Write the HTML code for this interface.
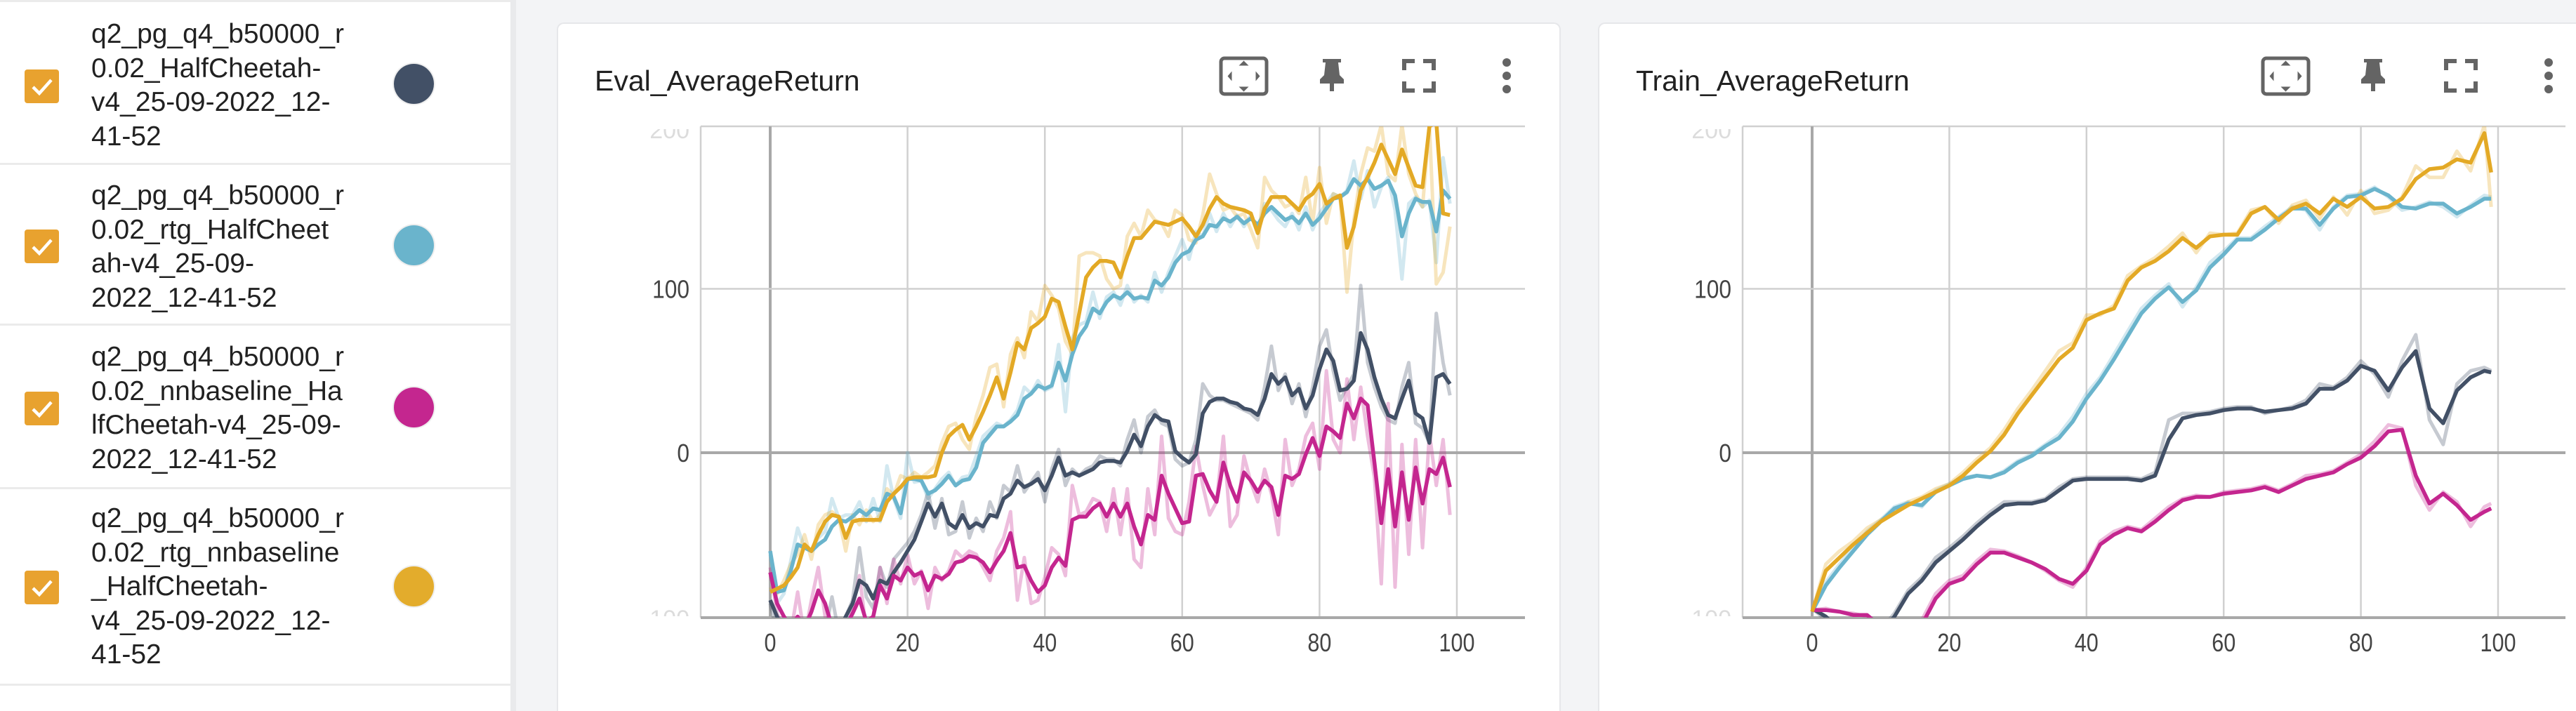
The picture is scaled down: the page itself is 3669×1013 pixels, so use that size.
<!DOCTYPE html>
<html><head><meta charset="utf-8">
<style>
html,body{margin:0;padding:0;width:3669px;height:1013px;overflow:hidden;background:#f3f4f6;font-family:"Liberation Sans",sans-serif;}
#sidebar{position:absolute;left:0;top:0;width:727px;height:1013px;background:#fff;}
#sep{position:absolute;left:727px;top:0;width:8px;height:1013px;background:#e9eaec;}
.row{position:absolute;left:0;width:727px;border-top:3px solid #ebebeb;}
.cb{position:absolute;left:35px;width:49px;height:48px;background:#e8a22f;border-radius:4px;}
.cb svg{position:absolute;left:0;top:0;}
.lbl{position:absolute;left:130px;width:420px;font-size:39px;line-height:48.5px;color:#212121;white-space:nowrap;}
.dot{position:absolute;left:561px;width:57px;height:57px;border-radius:50%;box-shadow:0 0 0 2px #eee;}
.card{position:absolute;top:32px;height:981px;background:#fff;border:2px solid #e6e7ea;border-bottom:none;border-radius:10px 10px 0 0;box-sizing:border-box;}
.title{position:absolute;font-size:41px;color:#212121;white-space:nowrap;}
#charts{position:absolute;left:0;top:0;}
</style></head>
<body>
<div id="sidebar">
  <div class="row" style="top:0;height:232px">
    <div class="cb" style="top:96px"><svg width="49" height="48"><path d="M12 25 L21 34 L38 15" stroke="#fff" stroke-width="4.5" fill="none"/></svg></div>
    <div class="lbl" style="top:22px">q2_pg_q4_b50000_r<br>0.02_HalfCheetah-<br>v4_25-09-2022_12-<br>41-52</div>
    <div class="dot" style="top:88px;background:#425066"></div>
  </div>
  <div class="row" style="top:232px;height:229px">
    <div class="cb" style="top:92px"><svg width="49" height="48"><path d="M12 25 L21 34 L38 15" stroke="#fff" stroke-width="4.5" fill="none"/></svg></div>
    <div class="lbl" style="top:20px">q2_pg_q4_b50000_r<br>0.02_rtg_HalfCheet<br>ah-v4_25-09-<br>2022_12-41-52</div>
    <div class="dot" style="top:86px;background:#6ab4cc"></div>
  </div>
  <div class="row" style="top:461px;height:233px">
    <div class="cb" style="top:94px"><svg width="49" height="48"><path d="M12 25 L21 34 L38 15" stroke="#fff" stroke-width="4.5" fill="none"/></svg></div>
    <div class="lbl" style="top:21px">q2_pg_q4_b50000_r<br>0.02_nnbaseline_Ha<br>lfCheetah-v4_25-09-<br>2022_12-41-52</div>
    <div class="dot" style="top:88px;background:#c4268f"></div>
  </div>
  <div class="row" style="top:694px;height:277px;border-bottom:3px solid #ebebeb">
    <div class="cb" style="top:116px"><svg width="49" height="48"><path d="M12 25 L21 34 L38 15" stroke="#fff" stroke-width="4.5" fill="none"/></svg></div>
    <div class="lbl" style="top:18px">q2_pg_q4_b50000_r<br>0.02_rtg_nnbaseline<br>_HalfCheetah-<br>v4_25-09-2022_12-<br>41-52</div>
    <div class="dot" style="top:110px;background:#e3ac2c"></div>
  </div>
</div>
<div id="sep"></div>

<div class="card" style="left:793px;width:1430px">
  <div class="title" style="left:52px;top:58px">Eval_AverageReturn</div>
</div>
<div class="card" style="left:2276px;width:1393px;border-right:none;border-radius:10px 0 0 0">
  <div class="title" style="left:52px;top:58px">Train_AverageReturn</div>
</div>

<svg id="charts" width="3669" height="1013" xmlns="http://www.w3.org/2000/svg"></svg>

<script>
// ---- Eval chart data (steps 0..99) ----
const evalSteps = Array.from({length:100},(_, i)=>i);
const evalGold = [-85,-83,-81,-76,-70,-56,-60,-50,-42,-38,-39,-52,-42,-41,-41,-41,-41,-30,-25,-21,-16,-15,-15,-15,-14,0,10,14,17,8,16,25,35,46,33,49,67,63,76,79,83,94,92,77,63,85,107,113,117,117,116,107,120,131,131,136,141,140,139,141,143,138,132,139,149,156,152,150,149,148,146,134,149,156,156,156,152,148,155,158,164,152,155,157,125,138,160,168,177,188,179,170,185,174,163,162,199,202,146,145];
const evalGoldRaw = [-82,-86,-78,-68,-62,-50,-65,-44,-38,-36,-40,-60,-38,-44,-35,-42,-38,-22,-26,-14,-16,-12,-15,-12,-8,6,16,18,8,2,22,35,52,54,28,60,70,58,86,80,102,96,88,68,60,120,122,122,120,106,100,102,132,140,132,148,142,140,132,148,145,130,128,145,170,158,148,150,144,146,136,125,168,160,156,150,152,146,168,140,174,140,158,156,98,142,170,186,184,200,170,166,200,170,158,150,200,103,110,138];
const evalBlue = [-60,-85,-84,-72,-56,-58,-60,-56,-53,-45,-41,-42,-39,-35,-38,-34,-35,-25,-27,-37,-16,-16,-17,-25,-23,-19,-14,-20,-17,-16,-9,6,11,16,16,19,23,33,36,41,39,41,55,44,60,71,77,88,85,92,96,94,98,94,95,94,105,102,107,116,121,123,130,132,139,138,143,141,144,140,143,139,146,150,146,142,144,140,146,139,143,149,155,156,159,167,163,167,161,163,166,157,132,146,155,153,153,135,160,155];
const evalBlueRaw = [-62,-92,-86,-66,-46,-58,-60,-52,-48,-28,-40,-38,-38,-30,-42,-28,-42,-8,-28,-40,0,-18,-17,-28,-22,-16,-12,-20,-15,-14,-2,10,14,18,16,20,26,40,36,44,38,40,66,25,70,78,80,98,82,95,98,90,102,92,96,92,110,98,110,120,130,118,135,132,146,135,146,138,145,138,145,134,152,148,142,138,146,136,150,136,146,152,158,156,160,178,155,172,150,162,168,148,106,152,156,150,154,116,180,152];
const evalDark = [-90,-100,-108,-112,-115,-115,-112,-110,-112,-110,-108,-100,-92,-78,-81,-89,-78,-80,-73,-67,-60,-53,-42,-31,-39,-31,-43,-46,-38,-46,-43,-45,-38,-39,-28,-25,-17,-21,-19,-16,-23,-14,-3,-14,-12,-14,-12,-10,-6,-5,-5,-6,1,11,4,16,23,20,19,1,-3,-6,-1,24,31,33,33,31,30,27,26,23,33,48,42,46,35,39,27,35,51,63,56,38,39,44,73,63,46,33,23,21,33,44,24,21,6,46,48,42];
const evalDarkRaw = [-92,-110,-110,-115,-110,-108,-115,-105,-110,-88,-110,-100,-90,-58,-88,-95,-70,-82,-65,-60,-55,-48,-38,-24,-46,-28,-50,-48,-30,-52,-40,-48,-30,-40,-20,-24,-8,-24,-18,-12,-30,-10,2,-20,-10,-14,-10,-8,-2,-4,-4,-8,8,20,0,22,26,18,16,-4,-8,-6,8,42,35,32,32,30,28,26,24,20,40,65,38,48,30,42,22,40,65,75,50,32,40,48,102,55,40,28,20,18,40,55,18,15,6,85,55,35];
const evalMag = [-73,-92,-100,-106,-100,-107,-97,-84,-92,-106,-108,-106,-98,-89,-103,-100,-81,-89,-75,-78,-70,-75,-73,-84,-75,-77,-74,-67,-66,-63,-64,-67,-73,-66,-60,-49,-70,-69,-78,-85,-81,-70,-64,-69,-41,-39,-39,-34,-31,-39,-31,-39,-31,-45,-56,-38,-41,-14,-25,-34,-43,-42,-14,-13,-23,-30,-6,-20,-30,-12,-17,-24,-17,-21,-38,-14,-16,-13,-1,9,-2,16,13,9,30,21,33,29,-6,-43,-10,-45,-12,-41,-9,-31,-10,-13,-3,-21];
const evalMagRaw = [-70,-98,-108,-110,-85,-112,-90,-70,-100,-110,-112,-110,-95,-75,-108,-100,-70,-92,-65,-80,-62,-80,-72,-95,-70,-78,-72,-60,-64,-60,-62,-70,-78,-60,-52,-36,-90,-64,-92,-90,-76,-58,-62,-75,-20,-38,-36,-28,-30,-48,-22,-50,-22,-65,-70,-22,-50,10,-40,-48,-50,-30,4,-20,-38,-30,10,-45,-38,-2,-18,-30,-10,-25,-50,8,-20,-10,10,18,-10,50,8,0,45,8,40,10,-15,-80,30,-82,5,-62,8,-58,12,-20,8,-38];

// ---- Train chart data ----
const trainSteps = [0,2,4,6,8,10,12,14,16,18,20,22,24,26,28,30,32,34,36,38,40,42,44,46,48,50,52,54,56,58,60,62,64,66,68,70,72,74,76,78,80,82,84,86,88,90,92,94,96,98,99];
const trainGold = [-97,-72,-64,-56,-49,-42,-37,-32,-28,-24,-20,-14,-6,1,11,24,35,46,57,64,81,85,88,105,113,117,123,131,125,132,133,133,146,150,142,149,152,146,155,150,156,149,150,155,167,173,174,179,177,195,171];
const trainGoldRaw = [-97,-68,-60,-54,-46,-41,-36,-30,-27,-22,-19,-12,-4,3,14,27,38,50,62,67,84,84,90,108,114,119,126,134,122,134,133,134,148,150,140,151,154,143,156,145,160,146,148,156,175,168,168,184,172,200,150];
const trainBlue = [-97,-81,-70,-60,-50,-42,-34,-31,-32,-24,-20,-16,-14,-15,-12,-6,-2,4,9,19,33,44,57,71,85,94,101,92,99,113,121,130,130,136,143,149,149,139,149,156,157,161,157,150,149,152,152,146,150,155,155];
const trainBlueRaw = [-97,-79,-68,-58,-48,-41,-33,-30,-33,-23,-19,-15,-14,-15,-11,-5,-1,5,11,22,36,46,60,74,88,96,103,89,101,116,123,131,131,138,144,150,148,136,150,157,158,162,156,148,150,153,150,144,151,157,156];
const trainDark = [-95,-100,-108,-112,-113,-110,-100,-86,-78,-67,-60,-53,-45,-38,-32,-31,-31,-29,-23,-17,-16,-16,-16,-16,-17,-14,8,21,23,24,26,27,27,25,26,27,30,39,39,44,53,50,38,52,62,27,18,38,46,50,49];
const trainDarkRaw = [-95,-102,-110,-112,-112,-108,-98,-84,-76,-64,-58,-51,-43,-36,-30,-30,-30,-28,-21,-16,-15,-15,-15,-15,-16,-12,20,24,24,25,27,28,28,24,26,28,32,42,40,46,56,48,34,56,72,20,5,42,50,52,50];
const trainMag = [-96,-96,-97,-99,-99,-106,-108,-108,-105,-89,-80,-77,-68,-61,-61,-64,-67,-71,-77,-80,-72,-56,-50,-46,-48,-42,-35,-29,-27,-27,-25,-24,-23,-21,-24,-20,-16,-14,-12,-7,-3,4,13,14,-14,-31,-25,-32,-41,-36,-34];
const trainMagRaw = [-96,-95,-97,-98,-100,-107,-108,-107,-102,-86,-78,-75,-66,-59,-60,-63,-67,-72,-78,-82,-70,-54,-48,-45,-47,-40,-33,-28,-26,-27,-24,-23,-22,-20,-23,-19,-14,-13,-11,-6,-1,7,17,15,-20,-35,-24,-30,-45,-33,-31];

const xTicks = [0,20,40,60,80,100];
const yTicks = [100,0];
const yTickLabels = ['100','0'];
const yEdgeLabels = ['200','-100'];

const NS='http://www.w3.org/2000/svg';
const root=document.getElementById('charts');


function mk(tag,attrs,parent){const e=document.createElementNS(NS,tag);for(const k in attrs)e.setAttribute(k,attrs[k]);(parent||root).appendChild(e);return e;}

function icons(g,fx,px,fsx,dx){
  const gi=mk('g',{},g);
  const b=mk('g',{},gi);
  
  
  mk('rect',{x:fx+2,y:83,width:65,height:51,rx:5,fill:'none',stroke:'#646464','stroke-width':5},b);
  const cx=fx+34.5,cy=108.5;
  mk('path',{d:`M${cx-7} ${cy-15}L${cx+7} ${cy-15}L${cx} ${cy-22}Z M${cx-7} ${cy+15}L${cx+7} ${cy+15}L${cx} ${cy+22}Z M${cx-23} ${cy}L${cx-17} ${cy-7}L${cx-17} ${cy+7}Z M${cx+23} ${cy}L${cx+17} ${cy-7}L${cx+17} ${cy+7}Z`,fill:'#646464'},b);
  const p=mk('g',{},gi);
  
  
  mk('path',{d:`M${px-13} 84 H${px+13} V89 H${px+9} L${px+11} 107 L${px+17} 113 V119 H${px+3} V130 H${px-3} V119 H${px-17} V113 L${px-11} 107 L${px-9} 89 H${px-13}Z`,fill:'#646464'},p);
  const f=mk('g',{},gi);
  
  
  const x0=fsx-21,x1=fsx+21;
  mk('path',{d:`M${x0} 100 V87 H${x0+15} M${x1-15} 87 H${x1} V100 M${x0} 116 V129 H${x0+15} M${x1-15} 129 H${x1} V116`,fill:'none',stroke:'#646464','stroke-width':6},f);
  const d=mk('g',{},gi);
  
  
  [89,108,127].forEach(y=>mk('circle',{cx:dx,cy:y,r:6,fill:'#646464'},d));
}

function chart(opts){
  const {name,left,right,x0,x100,steps,series}=opts;
  const top=180,bottom=880;
  const X=v=>x0+(x100-x0)*v/100;
  const Y=v=>645+(411.5-645)*v/100;
  const g=mk('g',{});
  
  
  const cid=name+'-clip';
  const cp=mk('clipPath',{id:cid},g);
  mk('rect',{x:left,y:top,width:right-left,height:bottom-top},cp);
  const grid=mk('g',{},g);
  
  
  mk('line',{x1:left,x2:right,y1:top,y2:top,stroke:'#d0d0d0','stroke-width':2.5},grid);
  mk('line',{x1:left,x2:left,y1:top,y2:bottom,stroke:'#d0d0d0','stroke-width':2.5},grid);
  xTicks.forEach(t=>{
    mk('line',{x1:X(t),x2:X(t),y1:top,y2:bottom,stroke:t===0?'#a8a8a8':'#d0d0d0','stroke-width':t===0?4:2.5},grid);
    const tx=mk('text',{x:X(t),y:928,'text-anchor':'middle','font-size':36,fill:'#444','font-family':'Liberation Sans, sans-serif',transform:`translate(${X(t)} 0) scale(0.85 1) translate(${-X(t)} 0)`},g);
    tx.textContent=String(t);
    
    
  });
  yTicks.forEach((t,i)=>{
    mk('line',{x1:left,x2:right,y1:Y(t),y2:Y(t),stroke:t===0?'#a8a8a8':'#d0d0d0','stroke-width':t===0?4:2.5},grid);
    const tx=mk('text',{x:left-16,y:Y(t)+13,'text-anchor':'end','font-size':36,fill:'#444','font-family':'Liberation Sans, sans-serif',transform:`translate(${left-16} 0) scale(0.88 1) translate(${-(left-16)} 0)`},g);
    tx.textContent=yTickLabels[i];
    
    
  });
  mk('line',{x1:left,x2:right,y1:bottom,y2:bottom,stroke:'#a8a8a8','stroke-width':4},grid);
  const ecp1=mk('clipPath',{id:cid+'-e1'},g);mk('rect',{x:left-120,y:184,width:120,height:20},ecp1);
  const e1=mk('text',{x:left-16,y:197,'text-anchor':'end','font-size':34,fill:'#dcdcdc','clip-path':`url(#${cid}-e1)`},g);
  e1.textContent=yEdgeLabels[0];
  
  
  const ecp2=mk('clipPath',{id:cid+'-e2'},g);mk('rect',{x:left-120,y:862,width:120,height:16},ecp2);
  const e2=mk('text',{x:left-16,y:893,'text-anchor':'end','font-size':34,fill:'#dcdcdc','clip-path':`url(#${cid}-e2)`},g);
  e2.textContent=yEdgeLabels[1];
  
  
  const lines=mk('g',{'clip-path':`url(#${cid})`},g);
  series.forEach(s=>{
    const pr=s.raw.map((v,i)=>`${i?'L':'M'}${X(steps[i]).toFixed(1)} ${Y(v).toFixed(1)}`).join('');
    const r=mk('path',{d:pr,fill:'none',stroke:s.color,'stroke-opacity':0.3,'stroke-width':5,'stroke-linejoin':'round'},lines);
    
    
  });
  series.forEach(s=>{
    const ps=s.vals.map((v,i)=>`${i?'L':'M'}${X(steps[i]).toFixed(1)} ${Y(v).toFixed(1)}`).join('');
    const l=mk('path',{d:ps,fill:'none',stroke:s.color,'stroke-width':5.5,'stroke-linejoin':'round'},lines);
    
    
  });
}

icons(root,1737,1897,2021,2146);
icons(root,3221,3380,3505,3630);

chart({name:'eval',left:998,right:2172,x0:1097,x100:2075,steps:evalSteps,series:[
  {id:'rtg',color:'#6ab4cc',vals:evalBlue,raw:evalBlueRaw},
  {id:'baseline',color:'#425066',vals:evalDark,raw:evalDarkRaw},
  {id:'nnbaseline',color:'#c4268f',vals:evalMag,raw:evalMagRaw},
  {id:'rtg-nnbaseline',color:'#e3a925',vals:evalGold,raw:evalGoldRaw}
]});
chart({name:'train',left:2482,right:3654,x0:2581,x100:3558,steps:trainSteps,series:[
  {id:'rtg',color:'#6ab4cc',vals:trainBlue,raw:trainBlueRaw},
  {id:'baseline',color:'#425066',vals:trainDark,raw:trainDarkRaw},
  {id:'nnbaseline',color:'#c4268f',vals:trainMag,raw:trainMagRaw},
  {id:'rtg-nnbaseline',color:'#e3a925',vals:trainGold,raw:trainGoldRaw}
]});
</script>
</body></html>
